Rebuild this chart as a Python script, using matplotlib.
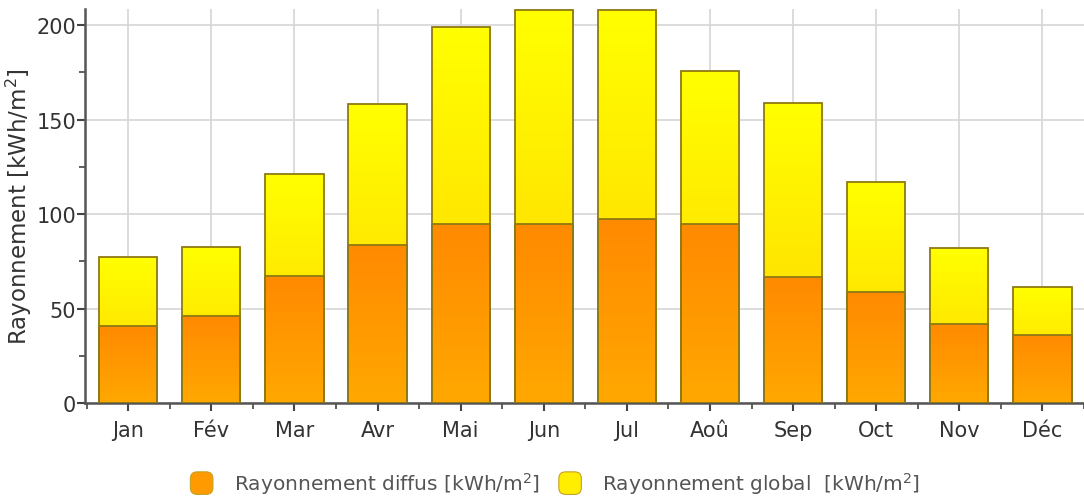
import matplotlib
matplotlib.use("Agg")
import numpy as np
import matplotlib.pyplot as plt
from matplotlib.colors import LinearSegmentedColormap
from matplotlib.patches import FancyBboxPatch
from matplotlib.legend_handler import HandlerBase

# Monthly irradiation data [kWh/m²]
months = ["Jan", "Fév", "Mar", "Avr", "Mai", "Jun", "Jul", "Aoû", "Sep", "Oct", "Nov", "Déc"]
diffus = [40.5, 46, 67, 83.5, 94.5, 94.5, 97.5, 94.5, 66.5, 59, 42, 36]
global_ = [77, 82.5, 121, 158, 199, 208, 208, 175.5, 158.5, 117, 82, 61.5]

legend_labels = ["Rayonnement diffus [kWh/m$^2$]", "Rayonnement global  [kWh/m$^2$]"]
y_label = "Rayonnement [kWh/m$^2$]"

plt.rcParams['font.family'] = ['DejaVu Sans']

yellow_cmap = LinearSegmentedColormap.from_list("yl", ["#ffd200", "#ffff00"])
orange_cmap = LinearSegmentedColormap.from_list("or", ["#ffa800", "#ff8a00"])
edge_col = "#8f7a14"

fig = plt.figure(figsize=(10.84, 5.02), dpi=100)
ax = fig.add_axes([85 / 1084, 98 / 502, 1 - 85 / 1084, 394 / 502])

x = np.arange(len(months))
width = 0.70

ax.set_axisbelow(True)
ax.grid(True, which="major", color="#d6d6d6", linewidth=1.2, zorder=0)

top_bars = ax.bar(x, global_, width=width, color="none", edgecolor=edge_col,
                  linewidth=1.3, zorder=4)
low_bars = ax.bar(x, diffus, width=width, color="none", edgecolor=edge_col,
                  linewidth=1.3, zorder=5)

grad = np.linspace(0, 1, 256).reshape(-1, 1)
for bar in top_bars:
    x0, y0 = bar.get_x(), bar.get_y()
    im = ax.imshow(grad, cmap=yellow_cmap, origin="lower", aspect="auto",
                   extent=(x0, x0 + bar.get_width(), y0, y0 + bar.get_height()),
                   zorder=2, interpolation="bilinear")
    im.set_clip_path(bar)
for bar in low_bars:
    x0, y0 = bar.get_x(), bar.get_y()
    im = ax.imshow(grad, cmap=orange_cmap, origin="lower", aspect="auto",
                   extent=(x0, x0 + bar.get_width(), y0, y0 + bar.get_height()),
                   zorder=3, interpolation="bilinear")
    im.set_clip_path(bar)

ax.set_xlim(-0.52, 11.49)
ax.set_ylim(0, 208.5)

ax.set_xticks(x)
ax.set_xticklabels(months)
ax.set_xticks(np.arange(-0.5, 12, 1), minor=True)
ax.set_yticks([0, 50, 100, 150, 200])
ax.set_yticks([25, 75, 125, 175], minor=True)

ax.tick_params(axis="both", which="major", labelsize=15, colors="#444444",
               labelcolor="#333333", length=6, width=1.5)
ax.tick_params(axis="both", which="minor", colors="#444444", length=4, width=1.2)
ax.tick_params(axis="x", which="major", pad=6)
ax.tick_params(axis="y", which="major", pad=0.5)

for s in ["top", "right"]:
    ax.spines[s].set_visible(False)
for s in ["left", "bottom"]:
    ax.spines[s].set_color("#555555")
    ax.spines[s].set_linewidth(1.8)

ax.set_ylabel(y_label, fontsize=16.5, color="#333333")
ax.yaxis.set_label_coords(-0.051, 0.50)


class RoundHandler(HandlerBase):
    def __init__(self, color):
        super().__init__()
        self.color = color

    def create_artists(self, legend, orig_handle, xdescent, ydescent, width,
                       height, fontsize, trans):
        size = height * 1.6
        p = FancyBboxPatch((xdescent + (width - size) / 2, ydescent + (height - size) / 2),
                           size, size,
                           boxstyle="round,pad=0,rounding_size=%f" % (size * 0.3),
                           facecolor=self.color, edgecolor="#c8a020", linewidth=0.8,
                           transform=trans)
        return [p]


h1 = plt.Rectangle((0, 0), 1, 1)
h2 = plt.Rectangle((0, 0), 1, 1)
leg = fig.legend([h1, h2], legend_labels, loc="center", bbox_to_anchor=(0.511, 0.035),
                 ncol=2, frameon=False, fontsize=14.5, handlelength=1.4,
                 handletextpad=0.9, columnspacing=0.8,
                 handler_map={h1: RoundHandler("#ff9a00"), h2: RoundHandler("#ffee00")})
for t in leg.get_texts():
    t.set_color("#555555")

fig.savefig("out.png", dpi=100)
